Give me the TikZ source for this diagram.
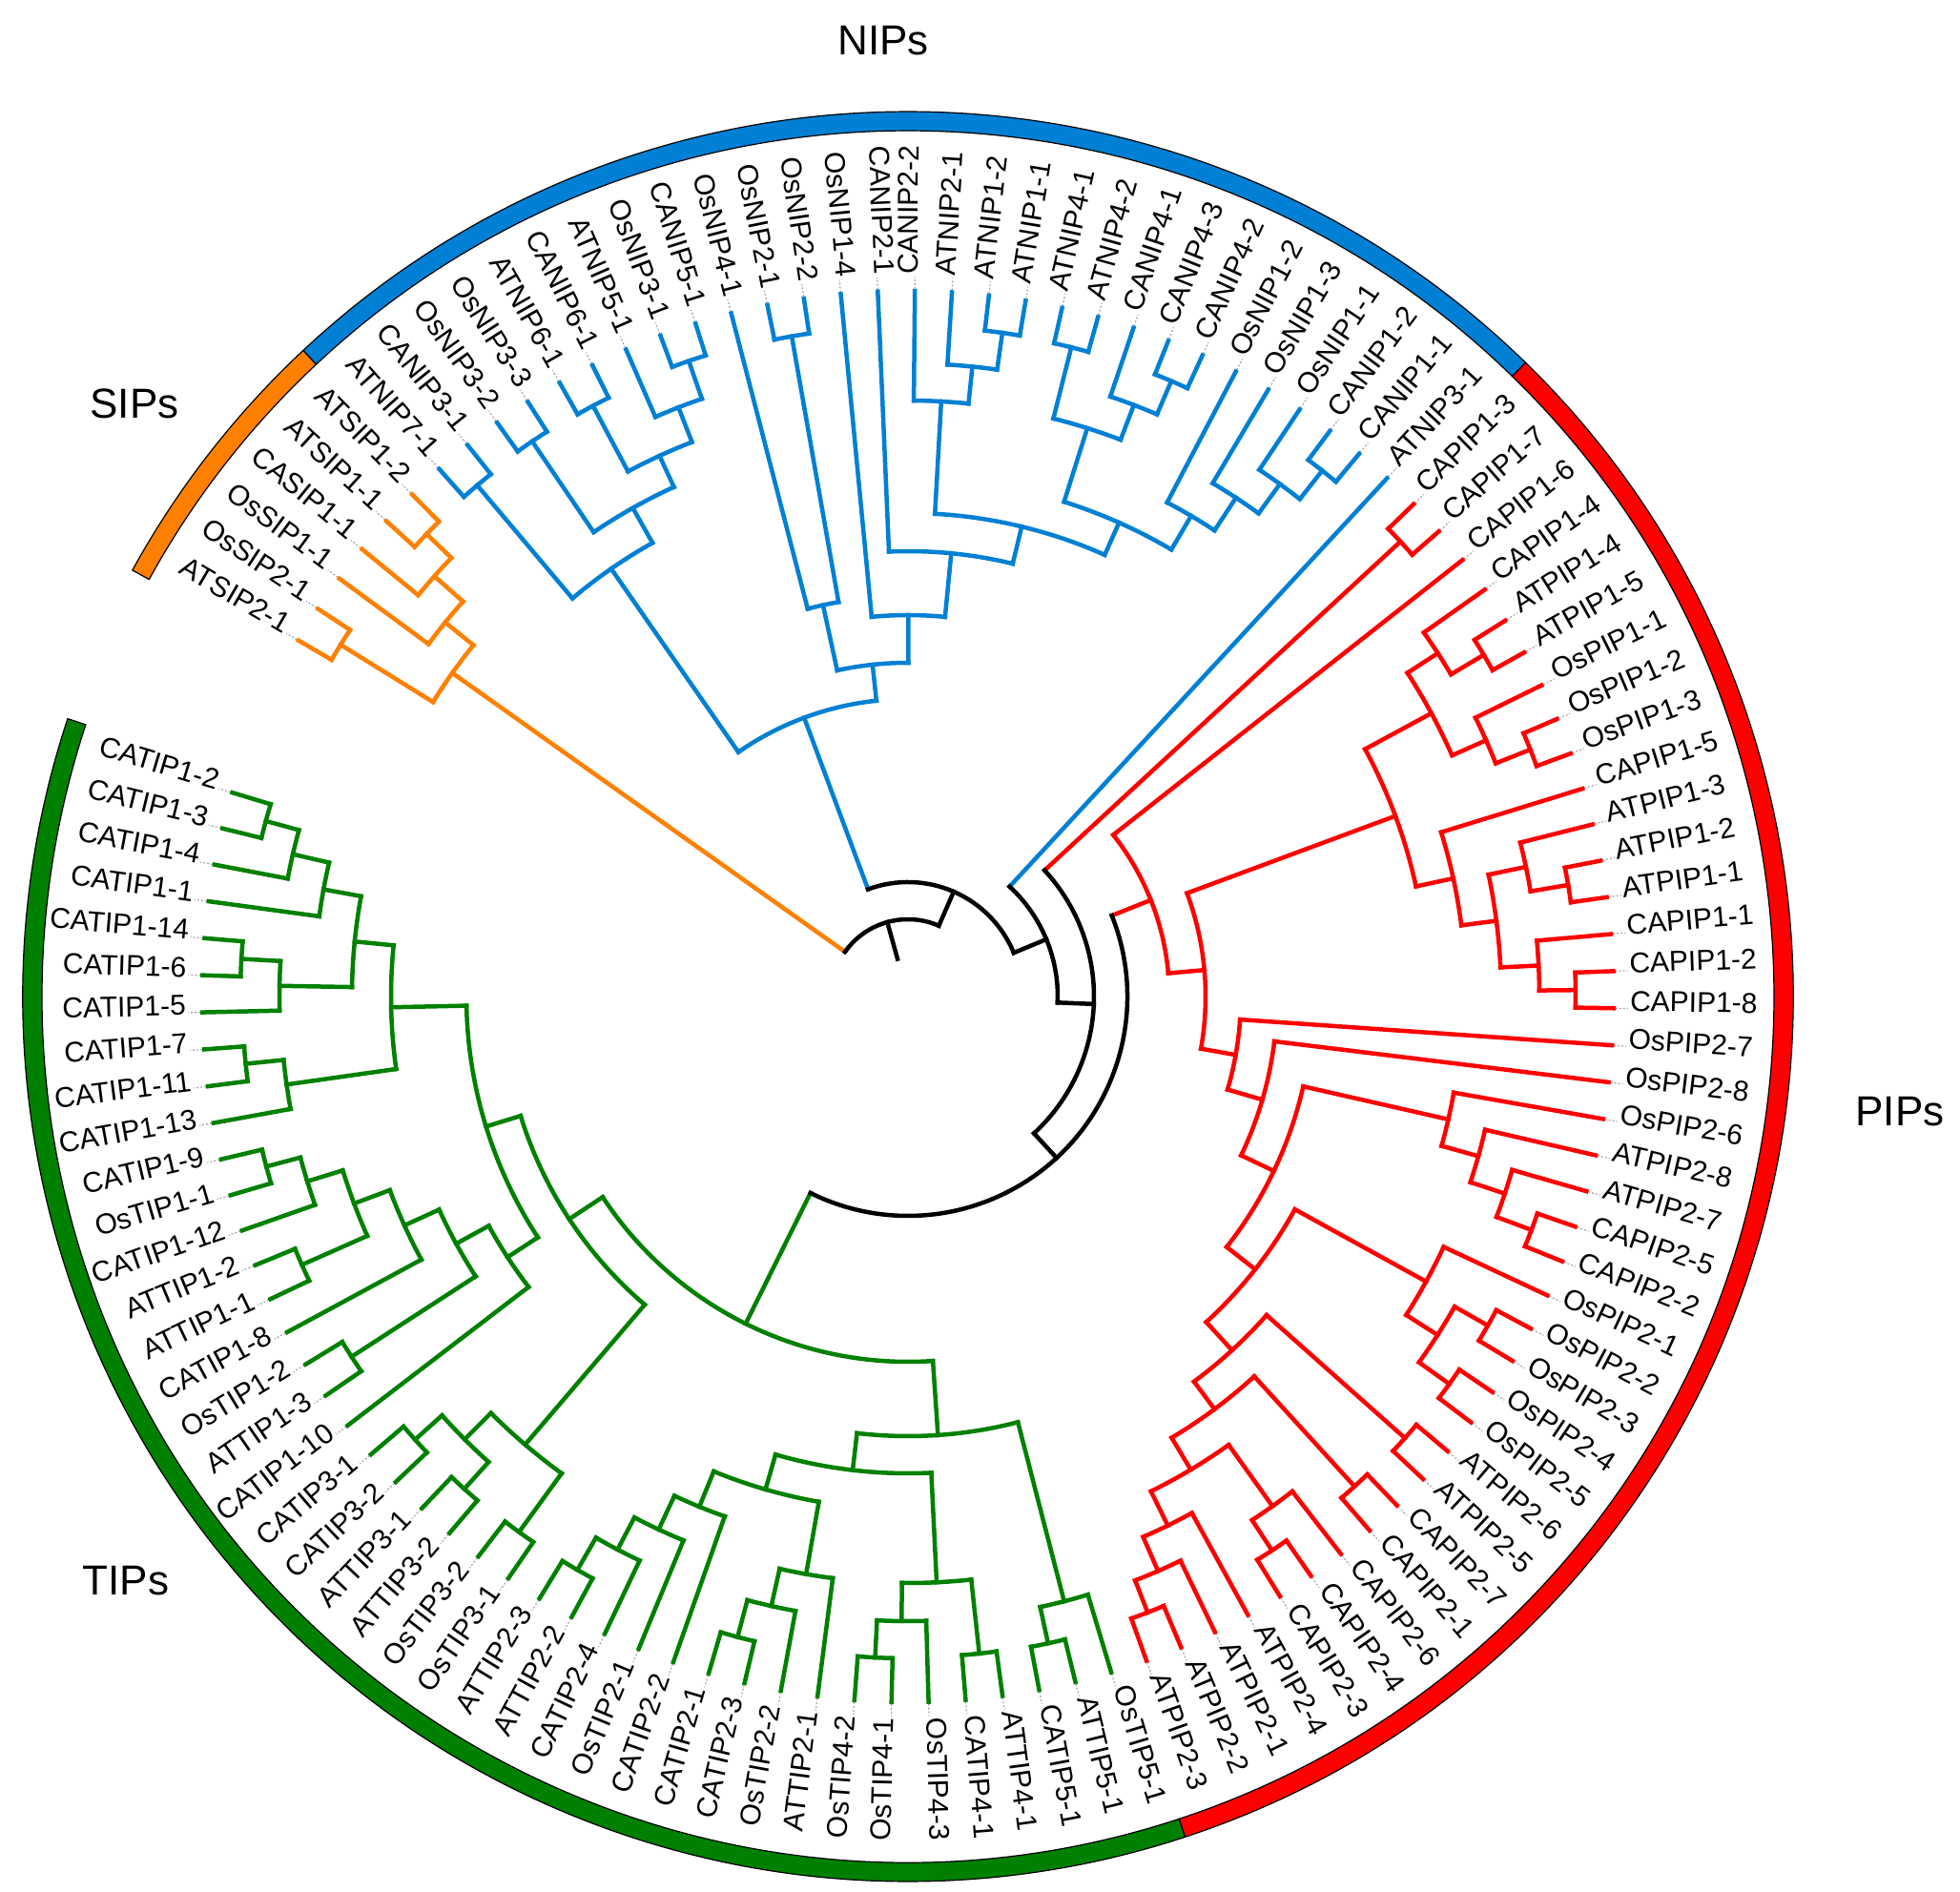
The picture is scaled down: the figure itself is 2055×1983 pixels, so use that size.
\documentclass[tikz,border=0pt]{standalone}
\usepackage{fontspec}
\setmainfont{Liberation Sans}
\definecolor{cS}{RGB}{255,128,0}
\definecolor{cN}{RGB}{0,128,212}
\definecolor{cP}{RGB}{255,0,0}
\definecolor{cT}{RGB}{0,128,0}
\definecolor{cB}{RGB}{0,0,0}
\def\aZ{149.7}
\def\dA{3.013}
\def\rTip{740}
\tikzset{
 br/.style={line width=4.5, line cap=rect},
 leader/.style={draw=gray!70, line width=1.2, dash pattern=on 2pt off 2pt},
 lbl/.style={font=\fontsize{30}{34}\selectfont, inner sep=0pt},
 grp/.style={font=\fontsize{44}{50}\selectfont, inner sep=0pt},
 ring/.style={draw=black, line width=1.2},
}
\newcommand\lf[3]{%
  \pgfmathsetmacro\tmpa{\aZ-#1*\dA}%
  \expandafter\xdef\csname ang#2\endcsname{\tmpa}%
  \expandafter\xdef\csname rad#2\endcsname{\rTip}%
  \expandafter\xdef\csname col#2\endcsname{#3}%
  \draw[leader] (\tmpa:742) -- (\tmpa:755);%
  \pgfmathsetmacro\tmpc{cos(\tmpa)}%
  \ifdim\tmpc pt<0pt
    \pgfmathsetmacro\tmpr{\tmpa+180}%
    \node[lbl, rotate=\tmpr, anchor=mid east] (L#2) at (\tmpa:757) {#2};%
  \else
    \node[lbl, rotate=\tmpa, anchor=mid west] (L#2) at (\tmpa:757) {#2};%
  \fi
}
\newcommand\jn[5]{%
  \edef\ja{\csname ang#2\endcsname}%
  \edef\jb{\csname ang#3\endcsname}%
  \edef\jra{\csname rad#2\endcsname}%
  \edef\jrb{\csname rad#3\endcsname}%
  \edef\jca{\csname col#2\endcsname}%
  \edef\jcb{\csname col#3\endcsname}%
  \pgfmathsetmacro\tmpa{(\ja+\jb)/2}%
  \expandafter\xdef\csname ang#1\endcsname{\tmpa}%
  \expandafter\xdef\csname rad#1\endcsname{#4}%
  \expandafter\xdef\csname col#1\endcsname{#5}%
  \draw[br, draw=\jca] (\ja:#4) -- (\ja:\jra);%
  \draw[br, draw=\jcb] (\jb:#4) -- (\jb:\jrb);%
  \draw[br, draw=#5] (\ja:#4) arc[start angle=\ja, end angle=\jb, radius=#4];%
}
\newcommand\rseg[3]{% start angle, end angle, colour
  \fill[#3, ring] (#1:908) arc[start angle=#1, end angle=#2, radius=908]
    -- (#2:928) arc[start angle=#2, end angle=#1, radius=928] -- cycle;}
\begin{document}
\begin{tikzpicture}[x=1pt,y=1pt]
\useasboundingbox (-952,-938) rectangle (1103,1045);
\fill[white] (-952,-938) rectangle (1103,1045);
% outer ring
\rseg{151.2}{133.1}{cS}
\rseg{133.1}{45.75}{cN}
\rseg{45.75}{-71.76}{cP}
\rseg{-71.76}{-198.3}{cT}
\node[grp] (gN) at (-26,1002) {NIPs};
\node[grp] (gP) at (1040,-121) {PIPs};
\node[grp] (gS) at (-811,622) {SIPs};
\node[grp] (gT) at (-820,-613) {TIPs};
% leaves
\lf{0}{ATSIP2-1}{cS}
\lf{1}{OsSIP2-1}{cS}
\lf{2}{OsSIP1-1}{cS}
\lf{3}{CASIP1-1}{cS}
\lf{4}{ATSIP1-1}{cS}
\lf{5}{ATSIP1-2}{cS}
\lf{6}{ATNIP7-1}{cN}
\lf{7}{CANIP3-1}{cN}
\lf{8}{OsNIP3-2}{cN}
\lf{9}{OsNIP3-3}{cN}
\lf{10}{ATNIP6-1}{cN}
\lf{11}{CANIP6-1}{cN}
\lf{12}{ATNIP5-1}{cN}
\lf{13}{OsNIP3-1}{cN}
\lf{14}{CANIP5-1}{cN}
\lf{15}{OsNIP4-1}{cN}
\lf{16}{OsNIP2-1}{cN}
\lf{17}{OsNIP2-2}{cN}
\lf{18}{OsNIP1-4}{cN}
\lf{19}{CANIP2-1}{cN}
\lf{20}{CANIP2-2}{cN}
\lf{21}{ATNIP2-1}{cN}
\lf{22}{ATNIP1-2}{cN}
\lf{23}{ATNIP1-1}{cN}
\lf{24}{ATNIP4-1}{cN}
\lf{25}{ATNIP4-2}{cN}
\lf{26}{CANIP4-1}{cN}
\lf{27}{CANIP4-3}{cN}
\lf{28}{CANIP4-2}{cN}
\lf{29}{OsNIP1-2}{cN}
\lf{30}{OsNIP1-3}{cN}
\lf{31}{OsNIP1-1}{cN}
\lf{32}{CANIP1-2}{cN}
\lf{33}{CANIP1-1}{cN}
\lf{34}{ATNIP3-1}{cN}
\lf{35}{CAPIP1-3}{cP}
\lf{36}{CAPIP1-7}{cP}
\lf{37}{CAPIP1-6}{cP}
\lf{38}{CAPIP1-4}{cP}
\lf{39}{ATPIP1-4}{cP}
\lf{40}{ATPIP1-5}{cP}
\lf{41}{OsPIP1-1}{cP}
\lf{42}{OsPIP1-2}{cP}
\lf{43}{OsPIP1-3}{cP}
\lf{44}{CAPIP1-5}{cP}
\lf{45}{ATPIP1-3}{cP}
\lf{46}{ATPIP1-2}{cP}
\lf{47}{ATPIP1-1}{cP}
\lf{48}{CAPIP1-1}{cP}
\lf{49}{CAPIP1-2}{cP}
\lf{50}{CAPIP1-8}{cP}
\lf{51}{OsPIP2-7}{cP}
\lf{52}{OsPIP2-8}{cP}
\lf{53}{OsPIP2-6}{cP}
\lf{54}{ATPIP2-8}{cP}
\lf{55}{ATPIP2-7}{cP}
\lf{56}{CAPIP2-5}{cP}
\lf{57}{CAPIP2-2}{cP}
\lf{58}{OsPIP2-1}{cP}
\lf{59}{OsPIP2-2}{cP}
\lf{60}{OsPIP2-3}{cP}
\lf{61}{OsPIP2-4}{cP}
\lf{62}{OsPIP2-5}{cP}
\lf{63}{ATPIP2-6}{cP}
\lf{64}{ATPIP2-5}{cP}
\lf{65}{CAPIP2-7}{cP}
\lf{66}{CAPIP2-1}{cP}
\lf{67}{CAPIP2-6}{cP}
\lf{68}{CAPIP2-4}{cP}
\lf{69}{CAPIP2-3}{cP}
\lf{70}{ATPIP2-4}{cP}
\lf{71}{ATPIP2-1}{cP}
\lf{72}{ATPIP2-2}{cP}
\lf{73}{ATPIP2-3}{cP}
\lf{74}{OsTIP5-1}{cT}
\lf{75}{ATTIP5-1}{cT}
\lf{76}{CATIP5-1}{cT}
\lf{77}{ATTIP4-1}{cT}
\lf{78}{CATIP4-1}{cT}
\lf{79}{OsTIP4-3}{cT}
\lf{80}{OsTIP4-1}{cT}
\lf{81}{OsTIP4-2}{cT}
\lf{82}{ATTIP2-1}{cT}
\lf{83}{OsTIP2-2}{cT}
\lf{84}{CATIP2-3}{cT}
\lf{85}{CATIP2-1}{cT}
\lf{86}{CATIP2-2}{cT}
\lf{87}{OsTIP2-1}{cT}
\lf{88}{CATIP2-4}{cT}
\lf{89}{ATTIP2-2}{cT}
\lf{90}{ATTIP2-3}{cT}
\lf{91}{OsTIP3-1}{cT}
\lf{92}{OsTIP3-2}{cT}
\lf{93}{ATTIP3-2}{cT}
\lf{94}{ATTIP3-1}{cT}
\lf{95}{CATIP3-2}{cT}
\lf{96}{CATIP3-1}{cT}
\lf{97}{CATIP1-10}{cT}
\lf{98}{ATTIP1-3}{cT}
\lf{99}{OsTIP1-2}{cT}
\lf{100}{CATIP1-8}{cT}
\lf{101}{ATTIP1-1}{cT}
\lf{102}{ATTIP1-2}{cT}
\lf{103}{CATIP1-12}{cT}
\lf{104}{OsTIP1-1}{cT}
\lf{105}{CATIP1-9}{cT}
\lf{106}{CATIP1-13}{cT}
\lf{107}{CATIP1-11}{cT}
\lf{108}{CATIP1-7}{cT}
\lf{109}{CATIP1-5}{cT}
\lf{110}{CATIP1-6}{cT}
\lf{111}{CATIP1-14}{cT}
\lf{112}{CATIP1-1}{cT}
\lf{113}{CATIP1-4}{cT}
\lf{114}{CATIP1-3}{cT}
\lf{115}{CATIP1-2}{cT}
% SIPs
\jn{s1}{ATSIP1-2}{ATSIP1-1}{700}{cS}
\jn{s2}{s1}{CASIP1-1}{664}{cS}
\jn{s3}{s2}{OsSIP1-1}{624}{cS}
\jn{s4}{OsSIP2-1}{ATSIP2-1}{700}{cS}
\jn{sip}{s3}{s4}{586}{cS}
% NIPs
\jn{p1}{ATNIP7-1}{CANIP3-1}{701}{cN}
\jn{p2}{OsNIP3-2}{OsNIP3-3}{703}{cN}
\jn{p3}{ATNIP6-1}{CANIP6-1}{702}{cN}
\jn{p4}{OsNIP3-1}{CANIP5-1}{705}{cN}
\jn{q1}{ATNIP5-1}{p4}{663}{cN}
\jn{q2}{p3}{q1}{624}{cN}
\jn{q3}{p2}{q2}{588}{cN}
\jn{q4}{p1}{q3}{546}{cN}
\jn{o2}{OsNIP2-1}{OsNIP2-2}{703}{cN}
\jn{ra}{OsNIP4-1}{o2}{420}{cN}
\jn{a1}{ATNIP1-2}{ATNIP1-1}{703}{cN}
\jn{a2}{ATNIP2-1}{a1}{664}{cN}
\jn{a3}{CANIP2-2}{a2}{625}{cN}
\jn{b1}{ATNIP4-1}{ATNIP4-2}{702}{cN}
\jn{b2}{CANIP4-3}{CANIP4-2}{702}{cN}
\jn{b3}{CANIP4-1}{b2}{664}{cN}
\jn{b4}{b1}{b3}{625}{cN}
\jn{c1}{CANIP1-2}{CANIP1-1}{702}{cN}
\jn{c2}{OsNIP1-1}{c1}{664}{cN}
\jn{c3}{OsNIP1-3}{c2}{626}{cN}
\jn{c4}{OsNIP1-2}{c3}{585}{cN}
\jn{b5}{b4}{c4}{544}{cN}
\jn{a4}{a3}{b5}{507}{cN}
\jn{a5}{CANIP2-1}{a4}{467}{cN}
\jn{rb}{OsNIP1-4}{a5}{400}{cN}
\jn{rr}{ra}{rb}{350}{cN}
\jn{nip}{q4}{rr}{312}{cN}
% PIP1
\jn{k0}{CAPIP1-3}{CAPIP1-7}{703}{cP}
\jn{k1}{ATPIP1-4}{ATPIP1-5}{702}{cP}
\jn{k2}{CAPIP1-4}{k1}{662}{cP}
\jn{k3}{OsPIP1-2}{OsPIP1-3}{702}{cP}
\jn{k4}{OsPIP1-1}{k3}{663}{cP}
\jn{k5}{k2}{k4}{624}{cP}
\jn{k6}{ATPIP1-2}{ATPIP1-1}{702}{cP}
\jn{k7}{ATPIP1-3}{k6}{662}{cP}
\jn{k8}{CAPIP1-2}{CAPIP1-8}{700}{cP}
\jn{k9}{CAPIP1-1}{k8}{662}{cP}
\jn{k10}{k7}{k9}{622}{cP}
\jn{k11}{CAPIP1-5}{k10}{585}{cP}
\jn{pip1}{k5}{k11}{545}{cP}
% PIP2
\jn{m1}{CAPIP2-5}{CAPIP2-2}{698}{cP}
\jn{m2}{ATPIP2-7}{m1}{659}{cP}
\jn{m3}{ATPIP2-8}{m2}{621}{cP}
\jn{m4}{OsPIP2-6}{m3}{581}{cP}
\jn{m5}{OsPIP2-2}{OsPIP2-3}{699}{cP}
\jn{m6}{OsPIP2-4}{OsPIP2-5}{698}{cP}
\jn{m7}{m5}{m6}{659}{cP}
\jn{m8}{OsPIP2-1}{m7}{620}{cP}
\jn{m9}{ATPIP2-6}{ATPIP2-5}{697}{cP}
\jn{m10}{CAPIP2-7}{CAPIP2-1}{695}{cP}
\jn{m11}{CAPIP2-4}{CAPIP2-3}{695}{cP}
\jn{m12}{CAPIP2-6}{m11}{657}{cP}
\jn{m13}{ATPIP2-2}{ATPIP2-3}{693}{cP}
\jn{m14}{ATPIP2-1}{m13}{657}{cP}
\jn{m15}{ATPIP2-4}{m14}{618}{cP}
\jn{m16}{m12}{m15}{578}{cP}
\jn{m17}{m10}{m16}{539}{cP}
\jn{m18}{m9}{m17}{503}{cP}
\jn{m19}{m8}{m18}{463}{cP}
\jn{m20}{m4}{m19}{425}{cP}
\jn{m21}{OsPIP2-8}{m20}{387}{cP}
\jn{m22}{OsPIP2-7}{m21}{349}{cP}
\jn{pb}{pip1}{m22}{312}{cP}
\jn{pr}{CAPIP1-6}{pb}{274}{cP}
% TIPs
\jn{t1}{ATTIP5-1}{CATIP5-1}{694}{cT}
\jn{t2}{OsTIP5-1}{t1}{655}{cT}
\jn{t3}{ATTIP4-1}{CATIP4-1}{693}{cT}
\jn{t4}{OsTIP4-1}{OsTIP4-2}{694}{cT}
\jn{t5}{OsTIP4-3}{t4}{655}{cT}
\jn{t6}{t3}{t5}{615}{cT}
\jn{t7}{CATIP2-3}{CATIP2-1}{695}{cT}
\jn{t8}{OsTIP2-2}{t7}{655}{cT}
\jn{t9}{ATTIP2-1}{t8}{615}{cT}
\jn{t10}{ATTIP2-2}{ATTIP2-3}{694}{cT}
\jn{t11}{CATIP2-4}{t10}{655}{cT}
\jn{t12}{OsTIP2-1}{t11}{617}{cT}
\jn{t13}{CATIP2-2}{t12}{578}{cT}
\jn{t14}{t9}{t13}{538}{cT}
\jn{t15}{t14}{t6}{500}{cT}
\jn{t16}{t15}{t2}{461}{cT}
\jn{t17}{OsTIP3-1}{OsTIP3-2}{694}{cT}
\jn{t18}{ATTIP3-2}{ATTIP3-1}{695}{cT}
\jn{t19}{CATIP3-2}{CATIP3-1}{695}{cT}
\jn{t20}{t18}{t19}{657}{cT}
\jn{t21}{t17}{t20}{618}{cT}
\jn{t22}{ATTIP1-3}{OsTIP1-2}{695}{cT}
\jn{t23}{ATTIP1-1}{ATTIP1-2}{695}{cT}
\jn{t24}{OsTIP1-1}{CATIP1-9}{696}{cT}
\jn{t25}{CATIP1-12}{t24}{659}{cT}
\jn{t26}{t23}{t25}{620}{cT}
\jn{t27}{CATIP1-8}{t26}{580}{cT}
\jn{t28}{t22}{t27}{540}{cT}
\jn{t29}{CATIP1-10}{t28}{501}{cT}
\jn{t30}{CATIP1-11}{CATIP1-7}{698}{cT}
\jn{t31}{CATIP1-13}{t30}{658}{cT}
\jn{t32}{CATIP1-6}{CATIP1-14}{700}{cT}
\jn{t33}{CATIP1-5}{t32}{659}{cT}
\jn{t34}{CATIP1-3}{CATIP1-2}{698}{cT}
\jn{t35}{CATIP1-4}{t34}{662}{cT}
\jn{t36}{CATIP1-1}{t35}{623}{cT}
\jn{t37}{t33}{t36}{583}{cT}
\jn{t38}{t31}{t37}{542}{cT}
\jn{t39}{t29}{t38}{463}{cT}
\jn{t40}{t21}{t39}{425}{cT}
\jn{tip}{t16}{t40}{383}{cT}
% backbone
\jn{x4}{pr}{tip}{230}{cB}
\jn{x3}{k0}{x4}{195}{cB}
\jn{x2}{ATNIP3-1}{x3}{157}{cB}
\jn{x1}{nip}{x2}{120}{cB}
\jn{root}{sip}{x1}{81}{cB}
\draw[br, draw=cB] (\angroot:41) -- (\angroot:81);
\end{tikzpicture}
\end{document}
